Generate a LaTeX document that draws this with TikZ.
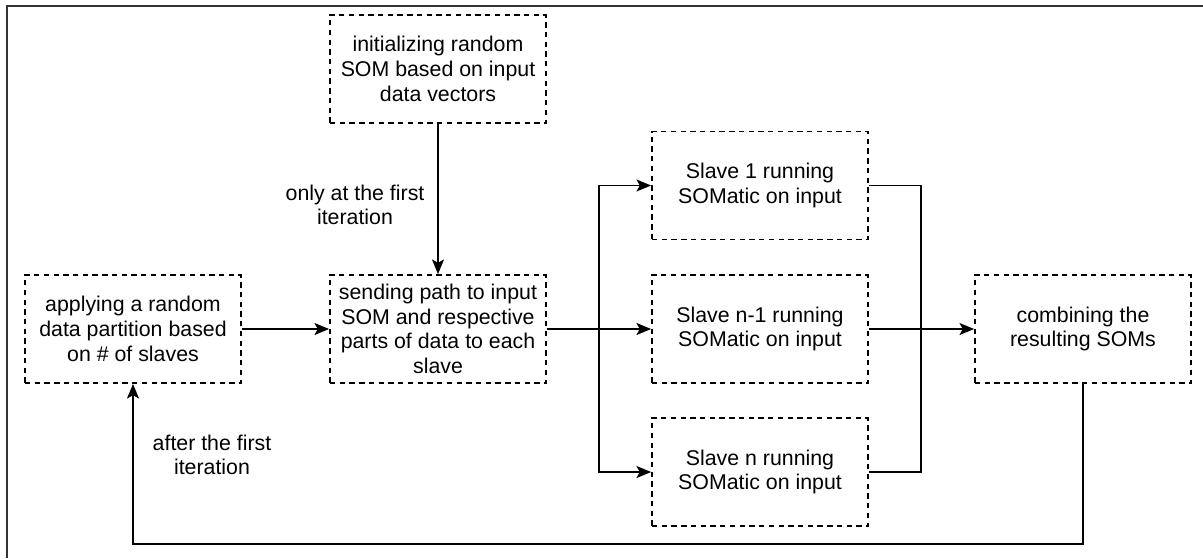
\documentclass[tikz,border=0pt]{standalone}
\usepackage{fontspec}
\setmainfont{Liberation Sans}
\usetikzlibrary{arrows.meta,positioning,calc}
\tikzset{
  dbox/.style={draw,rectangle,dash pattern=on 4pt off 3.3pt,line width=1.3pt,minimum width=162pt,minimum height=81pt,inner sep=0pt,align=center,font=\fontsize{16pt}{18.5pt}\selectfont},
  arr/.style={-{Stealth[length=11pt,width=9pt,inset=2.5pt]},line width=1.3pt},
  lnk/.style={line width=1.3pt},
  lbl/.style={align=center,font=\fontsize{16pt}{18.5pt}\selectfont},
  frame/.style={line width=1.8pt,draw=black!80}
}
\begin{document}
\begin{tikzpicture}[x=0.75pt,y=-0.75pt]
  \useasboundingbox (0,0) rectangle (1203,558);
  % Outer frame
  \draw[frame] (7,558) -- (7,6) -- (1203,6);

  % Master boxes
  \node[dbox] (init) at (438,69) {initializing random\\SOM based on input\\data vectors};
  \node[dbox] (apply) at (133,329) {applying a random\\data partition based\\on \# of slaves};
  \node[dbox] (send) at (438,329) {sending path to input\\SOM and respective\\parts of data to each\\slave};

  % Slave boxes
  \node[dbox] (slave1) at (760,185.5) {Slave 1 running\\SOMatic on input};
  \node[dbox] (slavem) at (760,329) {Slave n-1 running\\SOMatic on input};
  \node[dbox] (slaven) at (760,472) {Slave n running\\SOMatic on input};

  % Combining box
  \node[dbox] (comb) at (1083,329) {combining the\\resulting SOMs};

  % Edge labels
  \node[lbl] (lbl_first) at (355,205) {only at the first\\iteration};
  \node[lbl] (lbl_after) at (212,455) {after the first\\iteration};

  % Forward connections
  \draw[arr] (init.south) -- (send.north);
  \draw[arr] (apply.east) -- (send.west |- apply.east);
  \coordinate (split) at (599,329);
  \coordinate (merge) at (921,329);
  \draw[arr] (send.east) -- (slavem.west);
  \draw[arr] (split) |- (slave1.west);
  \draw[arr] (split) |- (slaven.west);
  \draw[lnk] (slave1.east) -| (merge);
  \draw[lnk] (slaven.east) -| (merge);
  \draw[arr] (slavem.east) -- (comb.west);

  % Feedback loop
  \draw[arr] (comb.south) -- ++(0,160) -| (apply.south);
\end{tikzpicture}
\end{document}
